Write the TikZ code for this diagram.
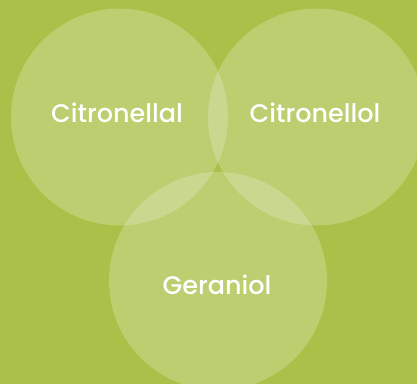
\documentclass[tikz,border=0pt]{standalone}
\usepackage{fontspec}
\newfontfamily\lblfont{Poppins Medium}
\definecolor{bg}{RGB}{169,193,72}
\begin{document}
\begin{tikzpicture}[x=1pt,y=-1pt,
  venn/.style={fill=white,fill opacity=0.22,draw=none},
  lbl/.style={text=white,font=\lblfont\fontsize{25.5}{30}\selectfont,anchor=base,inner sep=0pt}]
\fill[bg] (0,0) rectangle (417,384);
\useasboundingbox (0,0) rectangle (417,384);
\fill[venn] (119.5,117) circle (108.5);
\fill[venn] (316.5,117) circle (108.5);
\fill[venn] (218,281) circle (109);
\node[lbl] (a) at (117,122) {Citronellal};
\node[lbl] (b) at (315,122) {Citronellol};
\node[lbl] (c) at (217,294) {Geraniol};
\end{tikzpicture}
\end{document}
